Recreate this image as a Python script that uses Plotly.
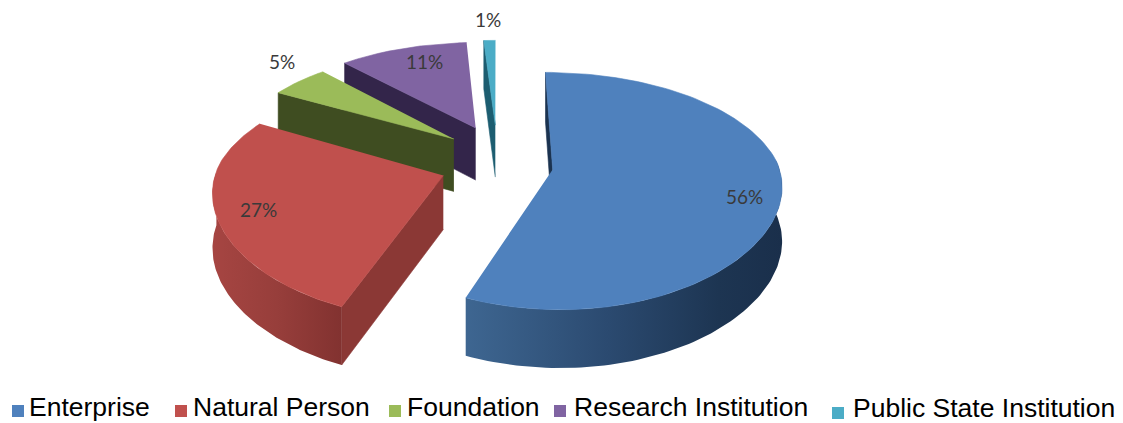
import numpy as np
import plotly.graph_objects as go

categories = ["Enterprise", "Natural Person", "Foundation", "Research Institution", "Public State Institution"]
shares = [56, 27, 5, 11, 1]
share_labels = ["56%", "27%", "5%", "11%", "1%"]

top_colors = ["#4F81BD", "#C0504D", "#9BBB59", "#8064A2", "#4BACC6"]
edge_colors = ["#1B3350", "#8B3835", "#3F4D21", "#33254A", "#1C5D70"]
wall_scales = [
    [[0, "#3E6691"], [0.45, "#2B4A70"], [0.8, "#1D3552"], [1, "#1A2F4B"]],
    [[0, "#A64542"], [0.5, "#973E3B"], [1, "#823230"]],
    None, None, None,
]
label_px = [(744, 196), (258, 209), (282, 61), (424, 61), (488, 19)]
legend_swatch_px = [(18, 411), (181, 411), (395, 411), (560, 411), (838, 413)]
legend_text_px = [(27, 407), (191, 407), (405, 407), (572, 407), (851, 407.5)]

# projection of the tilted disc onto the canvas
X0, Y0, B, A = 497, 162, 225, 112
PX_BACK, PX_FRONT, PY = 0.15, 0.12, 0.18
EX, EZ = 0.25, 0.35
D0 = 53.4


def project(X, Z, down=False):
    X, Z = np.asarray(X, float), np.asarray(Z, float)
    x = X0 + B * X / (1 + np.where(Z > 0, PX_BACK, PX_FRONT) * Z)
    y = Y0 - A * Z / (1 + PY * Z)
    if down:
        y = y + D0 / (1 + 0.08 * Z)
    return x, y


def ring(theta, cx, cz):
    return cx + np.sin(theta), cz + np.cos(theta)


def poly(x, y, color=None, scale=None):
    kw = dict(x=np.round(x, 1).tolist(), y=np.round(y, 1).tolist(), mode="lines", fill="toself",
              line=dict(width=0.6, color=color or "rgba(0,0,0,0)"), hoverinfo="skip", showlegend=False)
    if scale:
        kw["fillgradient"] = dict(type="horizontal", colorscale=scale)
        kw["line"] = dict(width=0)
    else:
        kw["fillcolor"] = color
    return go.Scatter(**kw)


fig = go.Figure()
total = sum(shares)
edges = np.radians(np.cumsum([0] + shares) / total * 360)

for i in [4, 3, 2, 1, 0]:
    a, b = edges[i], edges[i + 1]
    mid = (a + b) / 2
    cx, cz = EX * np.sin(mid), EZ * np.cos(mid)
    # radial wall at the leading edge
    ox, oz = ring(a, cx, cz)
    tx, ty = project([cx, ox], [cz, oz])
    bx, by = project([cx, ox], [cz, oz], down=True)
    fig.add_trace(poly(np.r_[tx, bx[::-1]], np.r_[ty, by[::-1]], edge_colors[i]))
    # curved outer wall
    lo, hi = max(a, np.radians(85)), min(b, np.radians(272))
    if lo < hi and wall_scales[i]:
        th = np.linspace(lo, hi, 90)
        rx, rz = ring(th, cx, cz)
        tx, ty = project(rx, rz)
        bx, by = project(rx, rz, down=True)
        fig.add_trace(poly(np.r_[tx, bx[::-1]], np.r_[ty, by[::-1]], scale=wall_scales[i]))
    # top face
    th = np.linspace(a, b, 120)
    rx, rz = ring(th, cx, cz)
    tx, ty = project(np.r_[cx, rx], np.r_[cz, rz])
    fig.add_trace(poly(tx, ty, top_colors[i]))

for i, name in enumerate(categories):
    sx, sy = legend_swatch_px[i]
    fig.add_trace(go.Scatter(x=[sx], y=[sy], mode="markers", name=name, showlegend=False,
                             hoverinfo="name",
                             marker=dict(symbol="square", size=12, color=top_colors[i])))
    tx, ty = legend_text_px[i]
    fig.add_annotation(x=tx, y=ty, text=name, showarrow=False, xanchor="left",
                       font=dict(family="Liberation Sans", size=26.5, color="#000000"))

for text, (px, py) in zip(share_labels, label_px):
    fig.add_annotation(x=px, y=py, text=text, showarrow=False,
                       font=dict(family="Lato", size=19, color="#3A3A3A"))

fig.update_layout(
    width=1123, height=423, autosize=False,
    margin=dict(l=0, r=0, t=0, b=0),
    paper_bgcolor="white", plot_bgcolor="white", showlegend=False,
    xaxis=dict(range=[0, 1123], visible=False, fixedrange=True),
    yaxis=dict(range=[423, 0], visible=False, fixedrange=True),
)
fig.write_html("out.html", post_script="document.body.style.margin='0';",
               config={"displayModeBar": False})
